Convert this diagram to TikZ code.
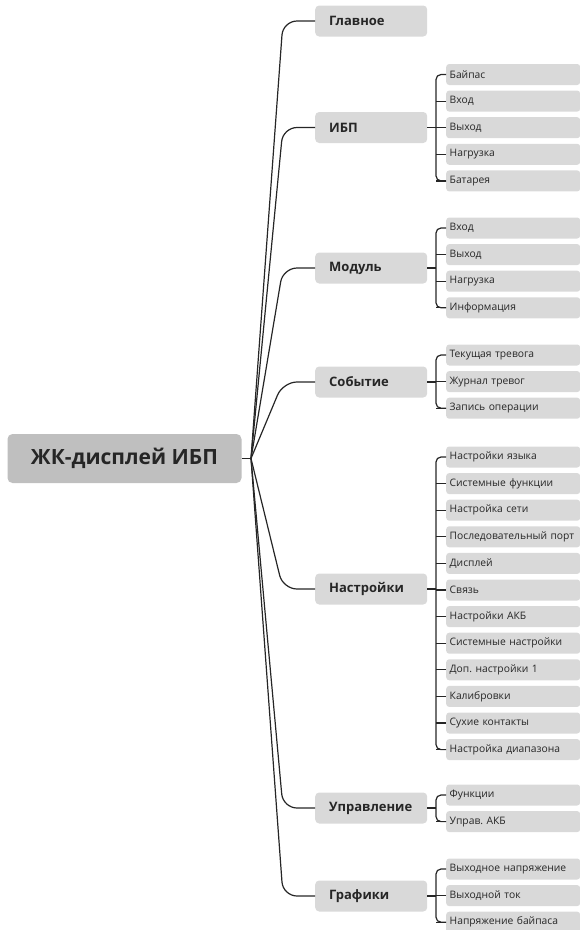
\documentclass[tikz,border=0pt]{standalone}
\usepackage{fontspec}
\setmainfont{Open Sans}
\usetikzlibrary{positioning}
\definecolor{rootgray}{RGB}{191,191,191}
\definecolor{boxgray}{RGB}{217,217,217}
\definecolor{ink}{RGB}{38,38,38}
\frenchspacing

\begin{document}
\begin{tikzpicture}[x=1pt, y=-1pt,
  rootbox/.style={fill=rootgray, rounded corners=5pt, minimum width=234pt, minimum height=49pt, text=ink, font=\bfseries\fontsize{21}{24}\selectfont},
  topic/.style={fill=boxgray, rounded corners=4pt, anchor=west, text width=84pt, inner xsep=14pt, minimum height=31pt, align=left, text=ink, font=\bfseries\fontsize{13}{15}\selectfont},
  leaf/.style={fill=boxgray, rounded corners=3pt, anchor=west, text width=127pt, inner xsep=3.5pt, minimum height=21pt, align=left, text=ink, font=\fontsize{10.3}{12}\selectfont},
  link/.style={draw=ink, line width=1.2pt}]
  \useasboundingbox (0,0) rectangle (580,930);
  \node[rootbox] (root) at (124.5,458.5) {ЖК-дисплей ИБП};
  \coordinate (hub) at (251,458.5);
  \draw[link] (root.east) -- (hub);
  \foreach \nm/\txt/\y in {main/Главное/21, ups/ИБП/127.5, mod/Модуль/268, evt/Событие/382, set/Настройки/589, ctl/Управление/808, grf/Графики/896} {
    \node[topic] (\nm) at (315,\y) {\txt};
    \draw[link] (\nm.west) [rounded corners=14pt] -- ++(-32,0) -- (hub);
  }
  \foreach \nm/\ytop/\n/\items in {
    ups/74.5/5/{Байпас,Вход,Выход,Нагрузка,Батарея},
    mod/228/4/{Вход,Выход,Нагрузка,Информация},
    evt/355/3/{Текущая тревога,Журнал тревог,Запись операции},
    set/457/12/{Настройки языка,Системные функции,Настройка сети,Последовательный порт,Дисплей,Связь,Настройки АКБ,Системные настройки,Доп. настройки 1,Калибровки,Сухие контакты,Настройка диапазона},
    ctl/795/2/{Функции,Управ. АКБ},
    grf/869/3/{Выходное напряжение,Выходной ток,Напряжение байпаса}} {
    \foreach \txt [count=\i] in \items
      \node[leaf] (\nm-\i) at (446,{\ytop+26.6*(\i-1)}) {\txt};
    \draw[link] (\nm.east) -- ++(9,0);
    \draw[link, rounded corners=5pt] (\nm-1.west) -- ++(-10,0) |- (\nm-\n.west);
    \foreach \i in {2,...,\n} \draw[link] (\nm-\i.west) -- ++(-10,0);
  }
\end{tikzpicture}
\end{document}
